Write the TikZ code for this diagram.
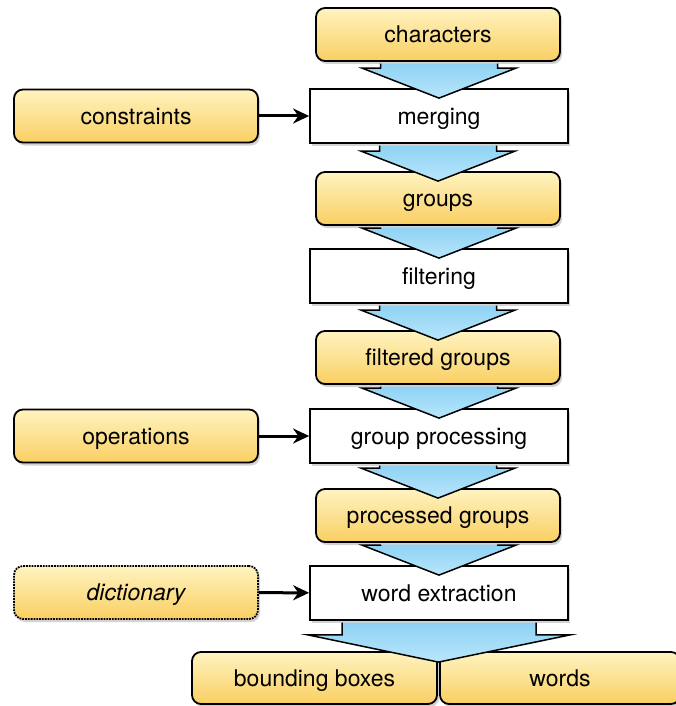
\documentclass[tikz,border=0pt]{standalone}
\usepackage{fontspec}
\setmainfont{TeX Gyre Heros}
\usetikzlibrary{calc,shadows,arrows.meta}

\definecolor{dataTop}{HTML}{FFF3C0}
\definecolor{dataBot}{HTML}{F9CF62}
\definecolor{flowTop}{HTML}{8FD2F4}
\definecolor{flowBot}{HTML}{B9E6FB}

\tikzset{
	data/.style={draw=black, line width=1.8pt, rounded corners=9pt,
		top color=dataTop, bottom color=dataBot,
		minimum width=244pt, minimum height=53pt, inner sep=0pt,
		font=\fontsize{23}{27}\selectfont, text height=16.5pt, text depth=0pt,
		drop shadow={opacity=0.35, shadow xshift=2pt, shadow yshift=-3pt}},
	optdata/.style={data, densely dotted},
	stage/.style={draw=black, line width=1.8pt, fill=white,
		minimum width=258pt, minimum height=54pt, inner sep=0pt,
		font=\fontsize{23}{27}\selectfont, text height=16.5pt, text depth=0pt,
		drop shadow={opacity=0.35, shadow xshift=2pt, shadow yshift=-3pt}},
	flow/.style={draw=black, line width=1.5pt, line join=miter,
		top color=flowTop, bottom color=flowBot},
	feed/.style={line width=3pt, -{Stealth[length=16pt,width=15pt]}}
}

% block arrow from #1 down into #2, shaft half width #3, head half width #4
\newcommand\flowarrow[4]{%
	\coordinate (s0) at (#2.north |- #1.south);
	\draw[flow] ($(s0)+(-#3,1.8)$) -- ($(#2.north)+(-#3,-20)$) -- ($(#2.north)+(-#4,-20)$)
		-- ($(#2.north)+(0,10)$) -- ($(#2.north)+(#4,-20)$) -- ($(#2.north)+(#3,-20)$)
		-- ($(s0)+(#3,1.8)$);}

\begin{document}
\begin{tikzpicture}[x=1pt, y=-1pt]
		%%%%% START %%%%%
		\useasboundingbox (0,0) rectangle (676,706);
		
		\node[data] (chars) at (438, 34.5) {characters};
		\node[stage] (merge) at (439, 116) {merging};
		\node[data] (groups) at (438, 198.5) {groups};
		\node[stage] (filter) at (439, 276) {filtering};
		\node[data] (fgroups) at (438, 357.5) {filtered groups};
		\node[stage] (gproc) at (439, 436) {group processing};
		\node[data] (pgroups) at (438, 515.5) {processed groups};
		\node[stage] (wextr) at (439, 593) {word extraction};
		
		\node[data, minimum width=245pt, minimum height=52pt] (bboxes) at (314.5, 678) {bounding boxes};
		\node[data, minimum width=240pt, minimum height=52pt] (words) at (560, 678) {words};
		
		\node[data] (constr) at (136, 116) {constraints};
		\node[data] (ops) at (136, 436) {operations};
		\node[optdata] (dict) at (136, 592.5) {\itshape dictionary};
		
		% side inputs
		\draw[feed] (constr) -- (merge);
		\draw[feed] (ops) -- (gproc);
		\draw[feed] (dict) -- (wextr);
		
		% main flow
		\flowarrow{chars}{merge}{58.5}{77}
		\flowarrow{merge}{groups}{58.5}{77}
		\flowarrow{groups}{filter}{58.5}{77}
		\flowarrow{filter}{fgroups}{58.5}{77}
		\flowarrow{fgroups}{gproc}{58.5}{77}
		\flowarrow{gproc}{pgroups}{58.5}{77}
		\flowarrow{pgroups}{wextr}{58.5}{77}
		
		\coordinate (split) at ($(bboxes.north east)!0.5!(words.north west)$);
		\coordinate (s0) at (wextr.south);
		\draw[flow] ($(s0)+(-97,1.8)$) -- ($(s0)+(-97,14)$) -- ($(s0)+(-131,14)$)
			-- ($(split)+(0,11)$) -- ($(s0)+(131,14)$) -- ($(s0)+(97,14)$)
			-- ($(s0)+(97,1.8)$);
		
		%%%%% END %%%%%
	\end{tikzpicture}
\end{document}
